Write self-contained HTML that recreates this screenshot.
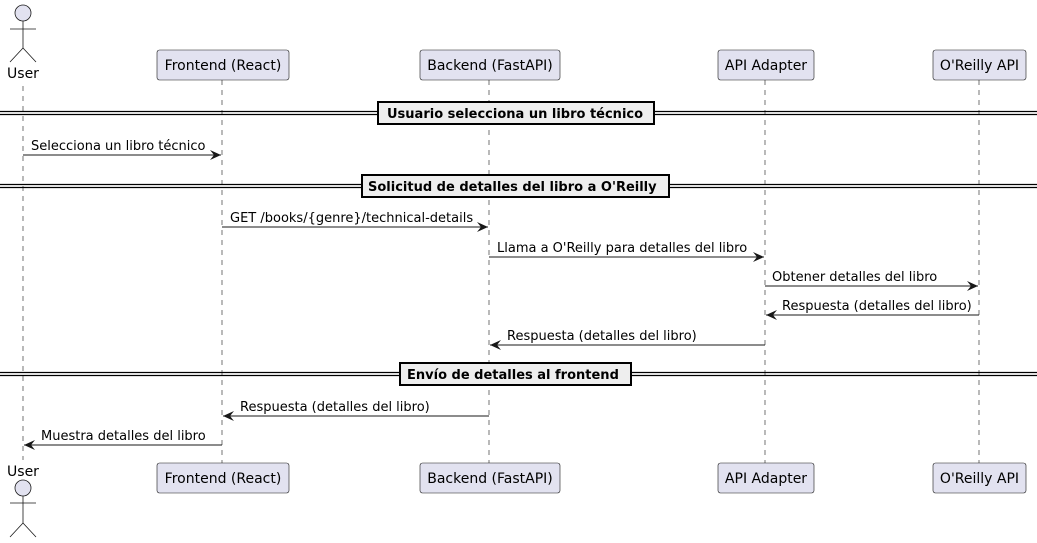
<!DOCTYPE html>
<html><head><meta charset="utf-8"><style>
html,body{margin:0;padding:0;background:#fff;width:1037px;height:543px;overflow:hidden}
svg text{font-family:"DejaVu Sans","Liberation Sans",sans-serif}
</style></head><body>
<svg width="1037" height="543" viewBox="0 0 1037 543" xmlns="http://www.w3.org/2000/svg">
<defs>
<marker id="a" markerWidth="12" markerHeight="10" refX="11" refY="5" orient="auto" markerUnits="userSpaceOnUse">
<path d="M0,0 L11,5 L0,10 L4,5 Z" fill="#181818"/></marker>
</defs>
<g stroke="#181818" stroke-width="0.6" stroke-dasharray="5,5" fill="none">
<line x1="23" y1="86" x2="23" y2="460"/>
<line x1="222" y1="80" x2="222" y2="463"/>
<line x1="489" y1="80" x2="489" y2="463"/>
<line x1="765" y1="80" x2="765" y2="463"/>
<line x1="979" y1="80" x2="979" y2="463"/>
</g>
<!-- actors -->
<g stroke="#181818" stroke-width="0.8" fill="#E2E2F0">
<circle cx="23" cy="13" r="8"/>
<line x1="23" y1="21" x2="23" y2="48"/><line x1="10" y1="29" x2="36" y2="29"/>
<line x1="23" y1="48" x2="10" y2="62"/><line x1="23" y1="48" x2="36" y2="62"/>
<circle cx="23" cy="488" r="8"/>
<line x1="23" y1="496" x2="23" y2="523"/><line x1="10" y1="503" x2="36" y2="503"/>
<line x1="23" y1="523" x2="10" y2="537"/><line x1="23" y1="523" x2="36" y2="537"/>
</g>
<g font-size="14" fill="#000" text-anchor="middle">
<text x="23" y="78">User</text><text x="23" y="476">User</text>
</g>
<!-- participants -->
<g stroke="#181818" stroke-width="0.6" fill="#E2E2F0">
<rect x="157" y="50" width="132" height="30" rx="2.5"/>
<rect x="420" y="50" width="140" height="30" rx="2.5"/>
<rect x="718" y="50" width="96" height="30" rx="2.5"/>
<rect x="933" y="50" width="93" height="30" rx="2.5"/>
<rect x="157" y="463" width="132" height="30" rx="2.5"/>
<rect x="420" y="463" width="140" height="30" rx="2.5"/>
<rect x="718" y="463" width="96" height="30" rx="2.5"/>
<rect x="933" y="463" width="93" height="30" rx="2.5"/>
</g>
<g font-size="14" fill="#000" text-anchor="middle">
<text x="223" y="70">Frontend (React)</text>
<text x="490" y="70">Backend (FastAPI)</text>
<text x="766" y="70">API Adapter</text>
<text x="979.5" y="70">O'Reilly API</text>
<text x="223" y="483">Frontend (React)</text>
<text x="490" y="483">Backend (FastAPI)</text>
<text x="766" y="483">API Adapter</text>
<text x="979.5" y="483">O'Reilly API</text>
</g>
<!-- dividers -->
<g stroke="#000" stroke-width="1.2">
<line x1="0" y1="111.5" x2="1037" y2="111.5"/><line x1="0" y1="114.5" x2="1037" y2="114.5"/>
<line x1="0" y1="184.5" x2="1037" y2="184.5"/><line x1="0" y1="187.5" x2="1037" y2="187.5"/>
<line x1="0" y1="372.5" x2="1037" y2="372.5"/><line x1="0" y1="375.5" x2="1037" y2="375.5"/>
</g>
<g stroke="#000" stroke-width="2" fill="#EEEEEE">
<rect x="378" y="102" width="276" height="22"/>
<rect x="362" y="175" width="307" height="22"/>
<rect x="400" y="363" width="231" height="22"/>
</g>
<g font-size="13" font-weight="bold" fill="#000">
<text x="387" y="118">Usuario selecciona un libro técnico</text>
<text x="368" y="191">Solicitud de detalles del libro a O'Reilly</text>
<text x="407" y="379">Envío de detalles al frontend</text>
</g>
<!-- messages -->
<g stroke="#181818" stroke-width="1" marker-end="url(#a)">
<line x1="23" y1="155" x2="221" y2="155"/>
<line x1="222" y1="227" x2="488" y2="227"/>
<line x1="489" y1="257" x2="764" y2="257"/>
<line x1="765" y1="286" x2="978" y2="286"/>
<line x1="979" y1="315" x2="766" y2="315"/>
<line x1="765" y1="345" x2="490" y2="345"/>
<line x1="489" y1="416" x2="223" y2="416"/>
<line x1="222" y1="445" x2="24" y2="445"/>
</g>
<g font-size="13" fill="#000">
<text x="31" y="150">Selecciona un libro técnico</text>
<text x="230" y="222">GET /books/{genre}/technical-details</text>
<text x="497" y="252">Llama a O'Reilly para detalles del libro</text>
<text x="772" y="281">Obtener detalles del libro</text>
<text x="782" y="310">Respuesta (detalles del libro)</text>
<text x="507" y="340">Respuesta (detalles del libro)</text>
<text x="240" y="411">Respuesta (detalles del libro)</text>
<text x="41" y="440">Muestra detalles del libro</text>
</g>
</svg>
</body></html>
